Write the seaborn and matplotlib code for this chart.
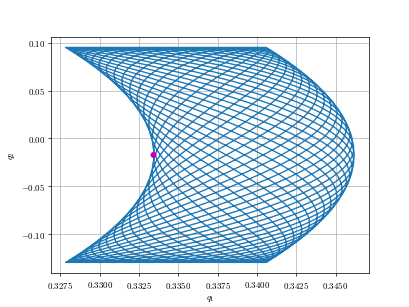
import numpy as np
import pandas as pd
import matplotlib
matplotlib.use("Agg")
import matplotlib.pyplot as plt
import seaborn as sns

# values
q1_limits = [0.32782, 0.34059]   # q1 swing: left corners / right-top corner
q2_limits = [-0.1293, 0.0950]    # q2 swing: bottom / top edge
q1_bulge = [0.0056]              # extra q1 at mid q2 (left envelope 0.3333, right 0.3463)
freq_ratio = [2]                 # q1 oscillates twice per q2 swing
n_periods = [17]                 # q2 swings in the run
phase_drift = [2 * np.pi]        # relative phase slip over the whole run

plt.rcParams["font.family"] = "serif"
plt.rcParams["font.serif"] = ["cmr10"]
plt.rcParams["mathtext.fontset"] = "cm"
plt.rcParams["axes.formatter.use_mathtext"] = True

uc, ua = np.mean(q1_limits), np.diff(q1_limits)[0] / 2
vc, va = np.mean(q2_limits), np.diff(q2_limits)[0] / 2

t = np.linspace(0, n_periods[0], n_periods[0] * 200 + 1)
s = np.sin(2 * np.pi * t)
r = -np.cos(2 * np.pi * freq_ratio[0] * t + phase_drift[0] * t / n_periods[0])
df = pd.DataFrame({
    "q1": uc + ua * r + q1_bulge[0] * (1 - s ** 2),
    "q2": vc + va * s,
})

fig, ax = plt.subplots(figsize=(6.4, 4.8), dpi=64)
sns.lineplot(data=df, x="q1", y="q2", sort=False, estimator=None,
             color="#1f77b4", linewidth=1.5, ax=ax)
sns.scatterplot(x=df["q1"].iloc[:1], y=df["q2"].iloc[:1], color="m",
                s=45, edgecolor="none", zorder=5, ax=ax)
ax.set_xticks(np.arange(0.3275, 0.3451, 0.0025))
ax.set_xlabel("$q_1$")
ax.set_ylabel("$q_2$")
ax.grid(True)
fig.savefig("out.png", dpi=64)
